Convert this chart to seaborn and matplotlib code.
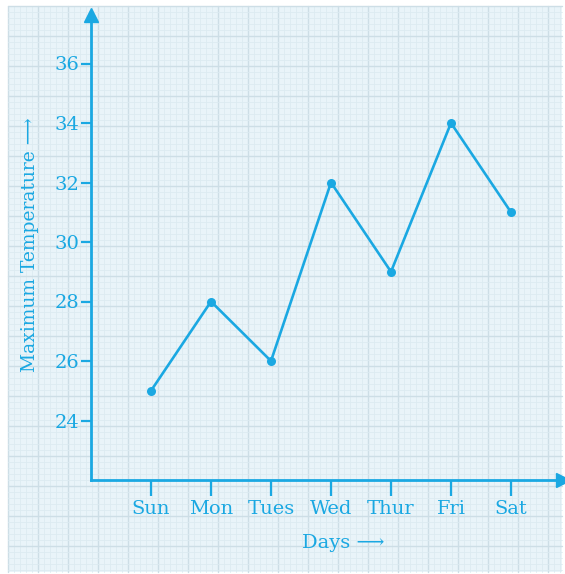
import numpy as np
import matplotlib
matplotlib.use('Agg')
import matplotlib.pyplot as plt
import pandas as pd
import seaborn as sns

# data
days = ['Sun', 'Mon', 'Tues', 'Wed', 'Thur', 'Fri', 'Sat']
max_temp = [25, 28, 26, 32, 29, 34, 31]
y_ticks = [24, 26, 28, 30, 32, 34, 36]

df = pd.DataFrame({'pos': np.arange(1, len(days) + 1), 'temp': max_temp})

sns.set_style('white')
plt.rcParams['font.family'] = ['DejaVu Serif', 'DejaVu Sans']

blue = '#1aa8e2'
W, H = 565, 574
fig = plt.figure(figsize=(W / 100, H / 100), dpi=100)

# graph paper background
bg = fig.add_axes([0, 0, 1, 1], zorder=0)
bg.set_xlim(0, W)
bg.set_ylim(H, 0)
bg.axis('off')
bg.add_patch(plt.Rectangle((8, 6), 554, 566, color='#e9f4f9', lw=0))
for i, v in enumerate(np.arange(8, 563, 6)):
    c = '#cddee6' if i % 5 == 0 else '#dcebf1'
    bg.plot([v, v], [6, 572], color=c, lw=1.0 if i % 5 == 0 else 0.6)
for i, v in enumerate(np.arange(6, 573, 6)):
    c = '#cddee6' if i % 5 == 0 else '#dcebf1'
    bg.plot([8, 562], [v, v], color=c, lw=1.0 if i % 5 == 0 else 0.6)

# main chart
ax = fig.add_axes([91 / W, (H - 480) / H, 472 / W, 465 / H], zorder=1)
ax.patch.set_alpha(0)
sns.lineplot(data=df, x='pos', y='temp', ax=ax, color=blue, lw=1.9,
             marker='o', markersize=6.5, markeredgewidth=0)
ax.set_xlim(0, 472 / 60)
ax.set_ylim(22, 22 + 465 / 29.75)

for s in ['top', 'right']:
    ax.spines[s].set_visible(False)
for s in ['left', 'bottom']:
    ax.spines[s].set_color(blue)
    ax.spines[s].set_linewidth(2)
ax.plot(1, 0, '>', color=blue, markersize=10, transform=ax.transAxes, clip_on=False)
ax.plot(0, 1, '^', color=blue, markersize=10, transform=ax.transAxes, clip_on=False)

ax.set_xticks(df['pos'])
ax.set_xticklabels(days)
ax.set_yticks(y_ticks)
ax.tick_params(axis='x', direction='out', length=11.5, width=1.6, color=blue,
               labelcolor=blue, labelsize=14, pad=3)
ax.tick_params(axis='y', direction='out', length=7.5, width=1.6, color=blue,
               labelcolor=blue, labelsize=14, pad=1)
ax.tick_params(bottom=True, left=True)

ax.set_xlabel('Days \u27f6', color=blue, fontsize=14, labelpad=8)
ax.set_ylabel('Maximum Temperature \u27f6', color=blue, fontsize=13.5, labelpad=6)
ax.xaxis.set_label_coords((343 - 91) / 472, -(534 - 480) / 465)
ax.yaxis.set_label_coords(-(91 - 39) / 472, (480 - 245) / 465)

fig.savefig('out.png', dpi=100)
